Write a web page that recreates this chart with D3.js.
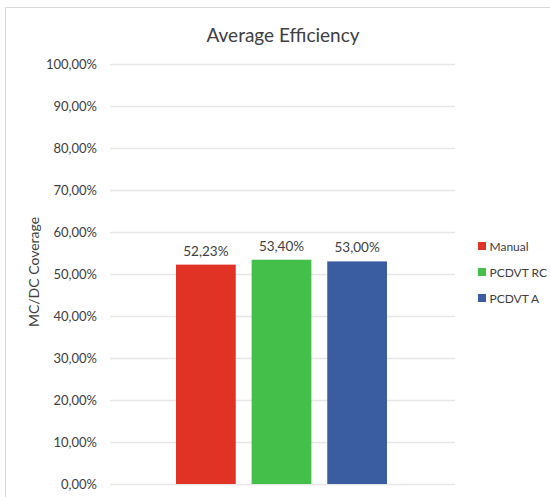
<!DOCTYPE html>
<html><head><meta charset="utf-8">
<script src="https://cdn.jsdelivr.net/npm/d3@7"></script>
<style>body{margin:0;background:#fff}svg{display:block}text{font-family:Lato,"Open Sans",sans-serif;fill:#404040}</style>
</head><body>
<script>
const categories = ["Manual", "PCDVT RC", "PCDVT A"];
const values = [0.5223, 0.5340, 0.5300];
const colors = ["#E03326", "#43BF4A", "#3A5CA0"];
const yTicks = [0,0.1,0.2,0.3,0.4,0.5,0.6,0.7,0.8,0.9,1.0];
const title = "Average Efficiency";
const yLabel = "MC/DC Coverage";

const W = 550, H = 497;
const svg = d3.select("body").append("svg").attr("width", W).attr("height", H);
svg.append("rect").attr("x",5.5).attr("y",7.5).attr("width",W).attr("height",H).attr("fill","#fff").attr("stroke","#d9d9d9");

const m = {l:110, r:455, t:64, b:484};
const y = d3.scaleLinear().domain([0,1]).range([m.b, m.t]);
const x = d3.scaleBand().domain(categories).range([176, 387]).paddingInner(0.21);
const fmt = v => d3.format(".2f")(v*100).replace(".", ",") + "%";

svg.append("g").selectAll("line").data(yTicks).join("line")
  .attr("x1", m.l).attr("x2", m.r).attr("y1", d=>Math.round(y(d))+0.5).attr("y2", d=>Math.round(y(d))+0.5)
  .attr("stroke","#e6e6e6").attr("stroke-width",1.3);

const yAxis = d3.axisLeft(y).tickValues(yTicks).tickFormat(fmt).tickSize(0).tickPadding(0);
const ga = svg.append("g").attr("transform","translate(97,0)").call(yAxis);
ga.select(".domain").remove();
ga.selectAll("text").style("font-size","13px").attr("fill","#404040").attr("font-family","Lato, 'Open Sans', sans-serif");

svg.append("g").selectAll("rect").data(categories).join("rect")
  .attr("x", d=>x(d)).attr("width", x.bandwidth())
  .attr("y", (d,i)=>y(values[i])).attr("height", (d,i)=>y(0)-y(values[i]))
  .attr("fill",(d,i)=>colors[i]);

svg.append("g").selectAll("text").data(categories).join("text")
  .attr("x", d=>x(d)+x.bandwidth()/2).attr("y",(d,i)=>y(values[i])-9)
  .attr("text-anchor","middle").style("font-size","13.5px").text((d,i)=>fmt(values[i]));

svg.append("text").attr("x",283).attr("y",42).attr("text-anchor","middle").style("font-size","19px").attr("fill","#262626").text(title);

svg.append("text").attr("transform","translate(39,272) rotate(-90)").attr("text-anchor","middle").style("font-size","14px").text(yLabel);

const lg = svg.append("g").selectAll("g").data(categories).join("g")
  .attr("transform",(d,i)=>`translate(478,${246+i*26})`);
lg.append("rect").attr("x",0).attr("y",-4).attr("width",8).attr("height",8).attr("fill",(d,i)=>colors[i]);
lg.append("text").attr("x",11.5).attr("y",4.5).style("font-size","12px").text(d=>d);
</script>
</body></html>
